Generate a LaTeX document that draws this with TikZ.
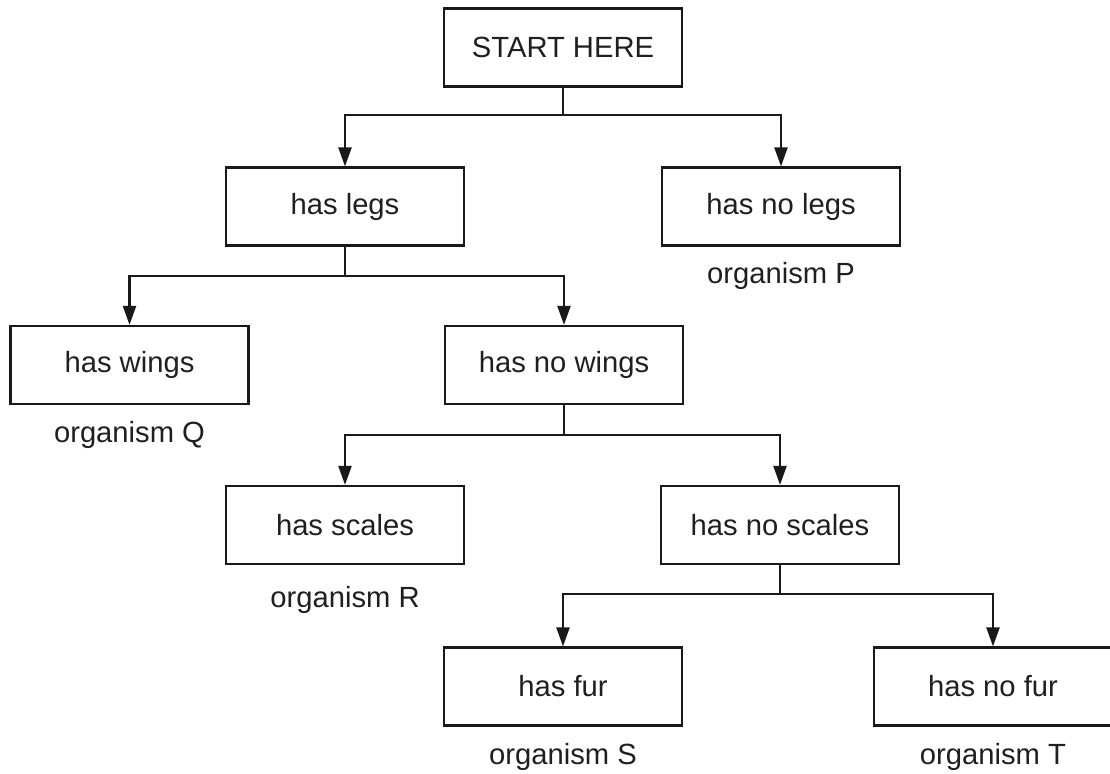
\documentclass[tikz,border=0pt]{standalone}
\usepackage{fontspec}
\setmainfont{Liberation Sans}
\usetikzlibrary{arrows.meta}
\begin{document}
\begin{tikzpicture}[x=0.5pt,y=-0.5pt,
  box/.style={draw=black!90,line width=1.1pt,minimum width=119pt,minimum height=39pt,inner sep=0pt,text=black!88,font=\fontsize{14.6}{18}\selectfont},
  lbl/.style={font=\fontsize{14.6}{18}\selectfont,text=black!88,inner sep=0pt},
  conn/.style={draw=black!90,line width=1.1pt},
  arr/.style={conn,-{Triangle[length=9.5pt,width=6.5pt]}}]
\useasboundingbox (0,0) rectangle (1110,774);
\node[box] (start) at (563,47.5) {START HERE};
\node[box] (legs) at (345,206.5) {has legs};
\node[box] (nolegs) at (781,206.5) {has no legs};
\node[lbl] (P) at (781,276) {organism P};
\node[box] (wings) at (129.5,365) {has wings};
\node[box] (nowings) at (564,365) {has no wings};
\node[lbl] (Q) at (129.5,435) {organism Q};
\node[box] (scales) at (345,525) {has scales};
\node[box] (noscales) at (780,525) {has no scales};
\node[lbl] (R) at (345,600) {organism R};
\node[box] (fur) at (563,686.5) {has fur};
\node[box] (nofur) at (993,686.5) {has no fur};
\node[lbl] (S) at (563,757) {organism S};
\node[lbl] (T) at (993,757) {organism T};
\coordinate (j1) at (563,115);
\coordinate (j2) at (345,276);
\coordinate (j3) at (564,435);
\coordinate (j4) at (780,594);
\draw[conn] (start.south) -- (j1);
\draw[arr] (j1) -| (legs.north);
\draw[arr] (j1) -| (nolegs.north);
\draw[conn] (legs.south) -- (j2);
\draw[arr] (j2) -| (wings.north);
\draw[arr] (j2) -| (nowings.north);
\draw[conn] (nowings.south) -- (j3);
\draw[arr] (j3) -| (scales.north);
\draw[arr] (j3) -| (noscales.north);
\draw[conn] (noscales.south) -- (j4);
\draw[arr] (j4) -| (fur.north);
\draw[arr] (j4) -| (nofur.north);
\end{tikzpicture}
\end{document}
